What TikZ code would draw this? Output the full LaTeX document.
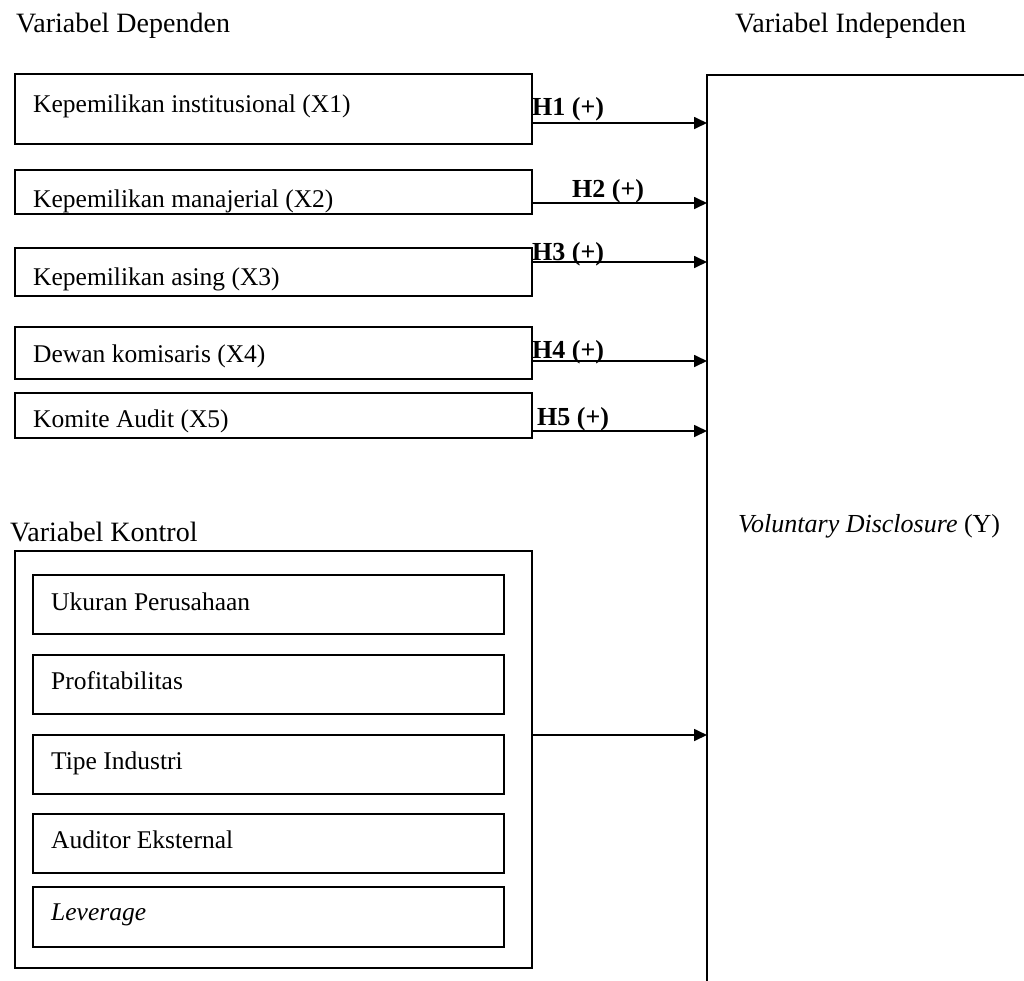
\documentclass[tikz,border=0pt]{standalone}
\usepackage{fontspec}
\setmainfont{Liberation Serif}
\usetikzlibrary{arrows.meta}
\tikzset{
  box/.style={draw, line width=1.7pt, inner sep=0pt, outer sep=0pt, anchor=north west},
  txt/.style={anchor=base west, inner sep=0pt, font=\fontsize{25.5}{30}\selectfont},
  hyp/.style={anchor=base west, inner sep=0pt, font=\bfseries\fontsize{26}{31}\selectfont},
  ttl/.style={anchor=base west, inner sep=0pt, font=\fontsize{28}{33}\selectfont},
  arr/.style={line width=1.7pt, -{Triangle[length=13pt,width=12pt]}}
}
\begin{document}
\begin{tikzpicture}[x=1pt,y=-1pt]
\useasboundingbox (0,0) rectangle (1024,980);
\clip (0,0) rectangle (1024,980);
% titles
\node[ttl] (tdep) at (16,32) {Variabel Dependen};
\node[ttl] (tind) at (735,32) {Variabel Independen};
\node[ttl] (tkon) at (10,541) {Variabel Kontrol};
% dependent boxes
\node[box, minimum width=517pt, minimum height=70pt] (b1) at (15,74) {};
\node[box, minimum width=517pt, minimum height=44pt] (b2) at (15,170) {};
\node[box, minimum width=517pt, minimum height=48pt] (b3) at (15,248) {};
\node[box, minimum width=517pt, minimum height=52pt] (b4) at (15,327) {};
\node[box, minimum width=517pt, minimum height=45pt] (b5) at (15,393) {};
\node[txt] (l1) at (33,112) {Kepemilikan institusional (X1)};
\node[txt] (l2) at (33,207) {Kepemilikan manajerial (X2)};
\node[txt] (l3) at (33,285) {Kepemilikan asing (X3)};
\node[txt] (l4) at (33,362) {Dewan komisaris (X4)};
\node[txt] (l5) at (33,427) {Komite Audit (X5)};
% control box
\node[box, minimum width=517pt, minimum height=417pt] (ctl) at (15,551) {};
\node[box, minimum width=471pt, minimum height=59pt] (c1) at (33,575) {};
\node[box, minimum width=471pt, minimum height=59pt] (c2) at (33,655) {};
\node[box, minimum width=471pt, minimum height=59pt] (c3) at (33,735) {};
\node[box, minimum width=471pt, minimum height=59pt] (c4) at (33,814) {};
\node[box, minimum width=471pt, minimum height=60pt] (c5) at (33,887) {};
\node[txt] (k1) at (51,610) {Ukuran Perusahaan};
\node[txt] (k2) at (51,689) {Profitabilitas};
\node[txt] (k3) at (51,769) {Tipe Industri};
\node[txt] (k4) at (51,848) {Auditor Eksternal};
\node[txt] (k5) at (51,920) {\itshape Leverage};
% dependent variable box (extends beyond the picture)
\node[box, minimum width=400pt, minimum height=1000pt] (Y) at (707,75) {};
\node[anchor=base west, inner sep=0pt, font=\fontsize{26}{31}\selectfont] (ylab) at (738,532) {\itshape Voluntary Disclosure\/ \upshape(Y)};
% arrows
\draw[arr] (b1.east |- 0,123) -- (Y.west |- 0,123);
\draw[arr] (b2.east |- 0,203) -- (Y.west |- 0,203);
\draw[arr] (b3.east |- 0,262) -- (Y.west |- 0,262);
\draw[arr] (b4.east |- 0,361) -- (Y.west |- 0,361);
\draw[arr] (b5.east |- 0,431) -- (Y.west |- 0,431);
\draw[arr] (ctl.east |- 0,735) -- (Y.west |- 0,735);
% hypothesis labels
\node[hyp] (h1) at (532,115) {H1 (+)};
\node[hyp] (h2) at (572,197) {H2 (+)};
\node[hyp] (h3) at (532,260) {H3 (+)};
\node[hyp] (h4) at (532,358) {H4 (+)};
\node[hyp] (h5) at (537,425) {H5 (+)};
\end{tikzpicture}
\end{document}
